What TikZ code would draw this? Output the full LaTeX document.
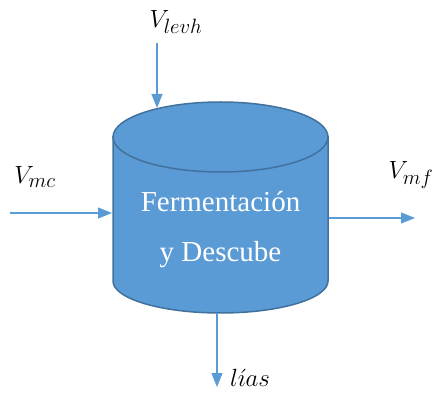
\documentclass[tikz,border=0pt]{standalone}
\usepackage{fontspec}
\setmainfont{Liberation Serif}
\usetikzlibrary{arrows.meta}
\definecolor{fillblue}{HTML}{5B9BD5}
\definecolor{edgeblue}{HTML}{41719C}
\tikzset{
  flow/.style={draw=fillblue, line width=1.1pt, -{Triangle[length=14pt,width=11pt]}},
  lbl/.style={font=\fontsize{30}{34}\selectfont, inner sep=0pt},
  tanktext/.style={text=white, font=\fontsize{29}{33}\selectfont, inner sep=0pt, anchor=base},
}
\begin{document}
\begin{tikzpicture}[x=1pt,y=1pt]
\useasboundingbox (0,0) rectangle (436,396);
% tank
\path[fill=fillblue, draw=edgeblue, line width=1.5pt]
  (113,259) -- (113,115) arc[start angle=180, end angle=360, x radius=107.5, y radius=32]
  -- (328,259) -- cycle;
\path[fill=fillblue, draw=edgeblue, line width=1.5pt]
  (220.5,259) ellipse[x radius=107.5, y radius=35];
\node[tanktext] (t1) at (220.5,184) {Fermentación};
\node[tanktext] (t2) at (220.5,134) {y Descube};
% endpoints
\coordinate (levhs) at (157,353);
\coordinate (levhe) at (157,288);
\coordinate (mcs) at (10,183);
\coordinate (mce) at (112,183);
\coordinate (mfs) at (329,178);
\coordinate (mfe) at (415,178);
\coordinate (liass) at (217,83);
\coordinate (liase) at (217,9);
\draw[flow] (levhs) -- (levhe);
\draw[flow] (mcs) -- (mce);
\draw[flow] (mfs) -- (mfe);
\draw[flow] (liass) -- (liase);
\node[lbl] (llevh) at (176,374) {$V_{levh}$};
\node[lbl] (lmc) at (35,219) {$V_{mc}$};
\node[lbl] (lmf) at (411,221) {$V_{mf}$};
\node[lbl] (llias) at (250,18) {$l\acute{\imath}as$};
\end{tikzpicture}
\end{document}
